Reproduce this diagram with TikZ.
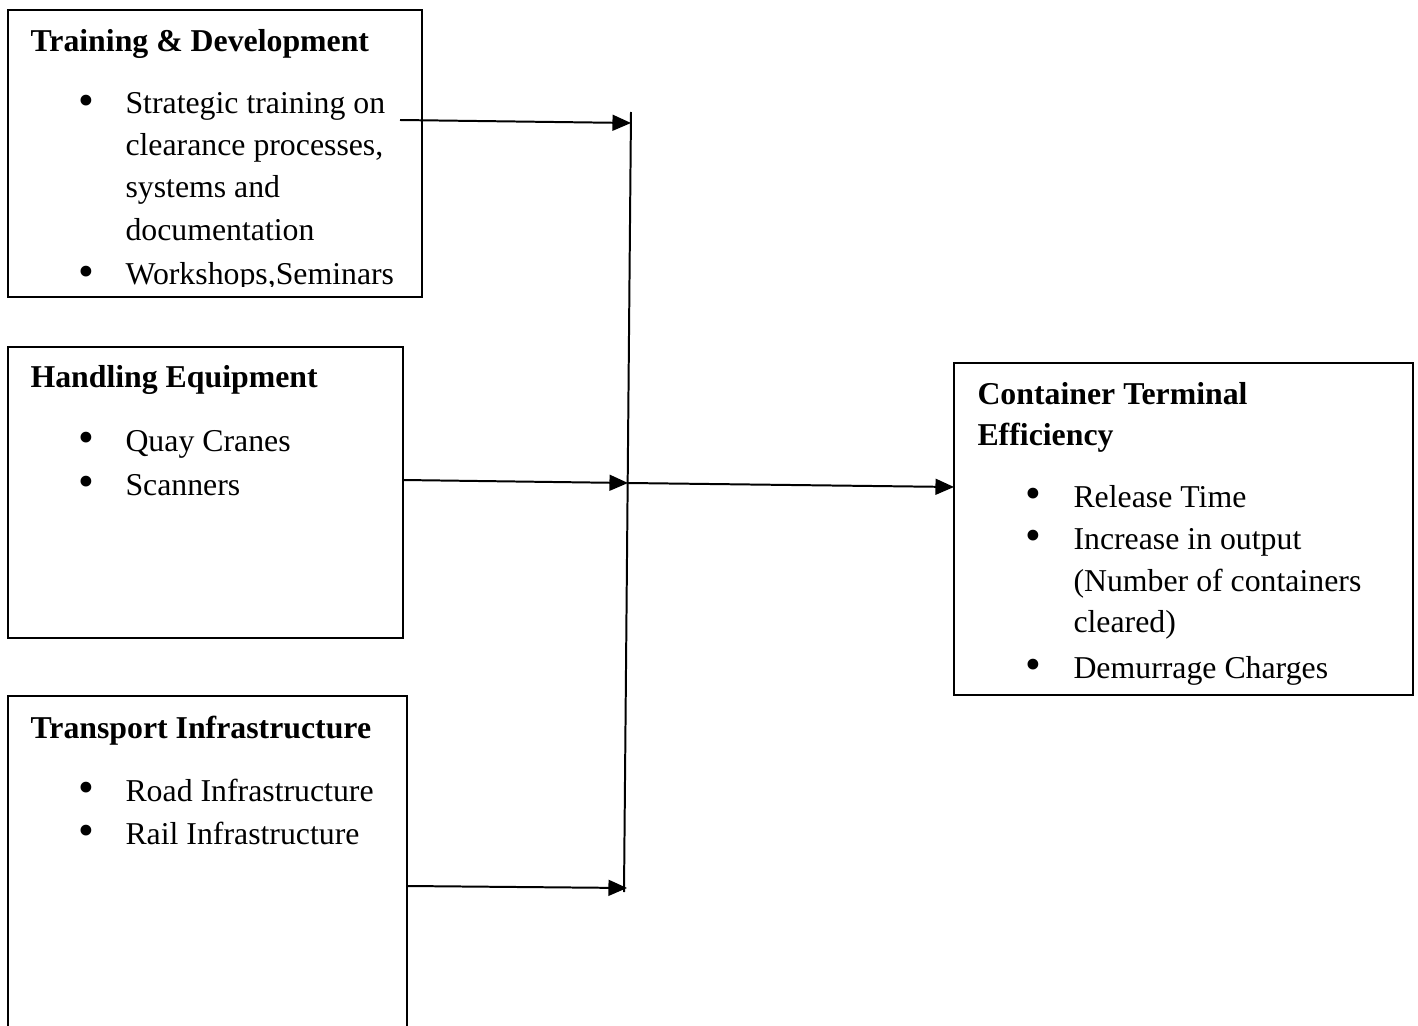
\documentclass[tikz,border=0pt]{standalone}
\usepackage{fontspec}
\setmainfont{Liberation Serif}
\usetikzlibrary{arrows.meta,fit}
\begin{document}
\begin{tikzpicture}[x=0.3774pt,y=-0.3774pt,
  box/.style={draw, line width=0.75pt, inner sep=0pt, outer sep=0pt},
  head/.style={anchor=base west, inner sep=0pt, font=\fontsize{12}{14}\selectfont\bfseries},
  item/.style={anchor=base west, inner sep=0pt, font=\fontsize{12}{14}\selectfont},
  bul/.style={anchor=center, inner sep=0pt, font=\fontsize{17}{19}\selectfont},
  conn/.style={line width=0.75pt, -{Triangle[length=7pt,width=6pt]}},
  bar/.style={line width=0.75pt}]
\useasboundingbox (0,0) rectangle (1418,1026);
\clip (0,0) rectangle (1418,1026);
% boxes
\node[box, fit={(8,10) (422,297)}] (b1) {};
\node[box, fit={(8,347) (403,638)}] (b2) {};
\node[box, fit={(8,696) (407,1120)}] (b3) {};
\node[box, fit={(954,363) (1413,695)}] (b4) {};
% box 1 text
\begin{scope}
\clip (8,10) rectangle (422,287);
\node[head] (h1) at (30,52) {Training \& Development};
\node[bul] (u11) at (86,105) {•};
\node[item] (t11) at (125,114) {Strategic training on};
\node[item] (t12) at (125,156) {clearance processes,};
\node[item] (t13) at (125,198) {systems and};
\node[item] (t14) at (125,240) {documentation};
\node[bul] (u12) at (86,276) {•};
\node[item] (t15) at (125,285) {Workshops,Seminars};
\end{scope}
% box 2 text
\node[head] (h2) at (30,388) {Handling Equipment};
\node[bul] (u21) at (86,442) {•};
\node[item] (t21) at (125,451) {Quay Cranes};
\node[bul] (u22) at (86,486) {•};
\node[item] (t22) at (125,495) {Scanners};
% box 3 text
\node[head] (h3) at (30,738) {Transport Infrastructure};
\node[bul] (u31) at (86,792) {•};
\node[item] (t31) at (125,801) {Road Infrastructure};
\node[bul] (u32) at (86,835) {•};
\node[item] (t32) at (125,844) {Rail Infrastructure};
% box 4 text
\node[head] (h41) at (977,404) {Container Terminal};
\node[head] (h42) at (977,445) {Efficiency};
\node[bul] (u41) at (1033,498) {•};
\node[item] (t41) at (1073,507) {Release Time};
\node[bul] (u42) at (1033,540) {•};
\node[item] (t42) at (1073,549) {Increase in output};
\node[item] (t43) at (1073,591) {(Number of containers};
\node[item] (t44) at (1073,632) {cleared)};
\node[bul] (u43) at (1033,669) {•};
\node[item] (t45) at (1073,678) {Demurrage Charges};
% connectors
\coordinate (vt) at (631,112);
\coordinate (vb) at (624,892);
\draw[bar] (vt) -- (vb);
\coordinate (s1) at (400,120);
\coordinate (e1) at (631,123);
\coordinate (s2) at (b2.east |- 0,480);
\coordinate (e2) at (628,483);
\coordinate (e3) at (b4.west |- 0,487);
\coordinate (s4) at (b3.east |- 0,886);
\coordinate (e4) at (627,888);
\draw[conn] (s1) -- (e1);
\draw[conn] (s2) -- (e2);
\draw[conn] (e2) -- (e3);
\draw[conn] (s4) -- (e4);
\end{tikzpicture}
\end{document}
